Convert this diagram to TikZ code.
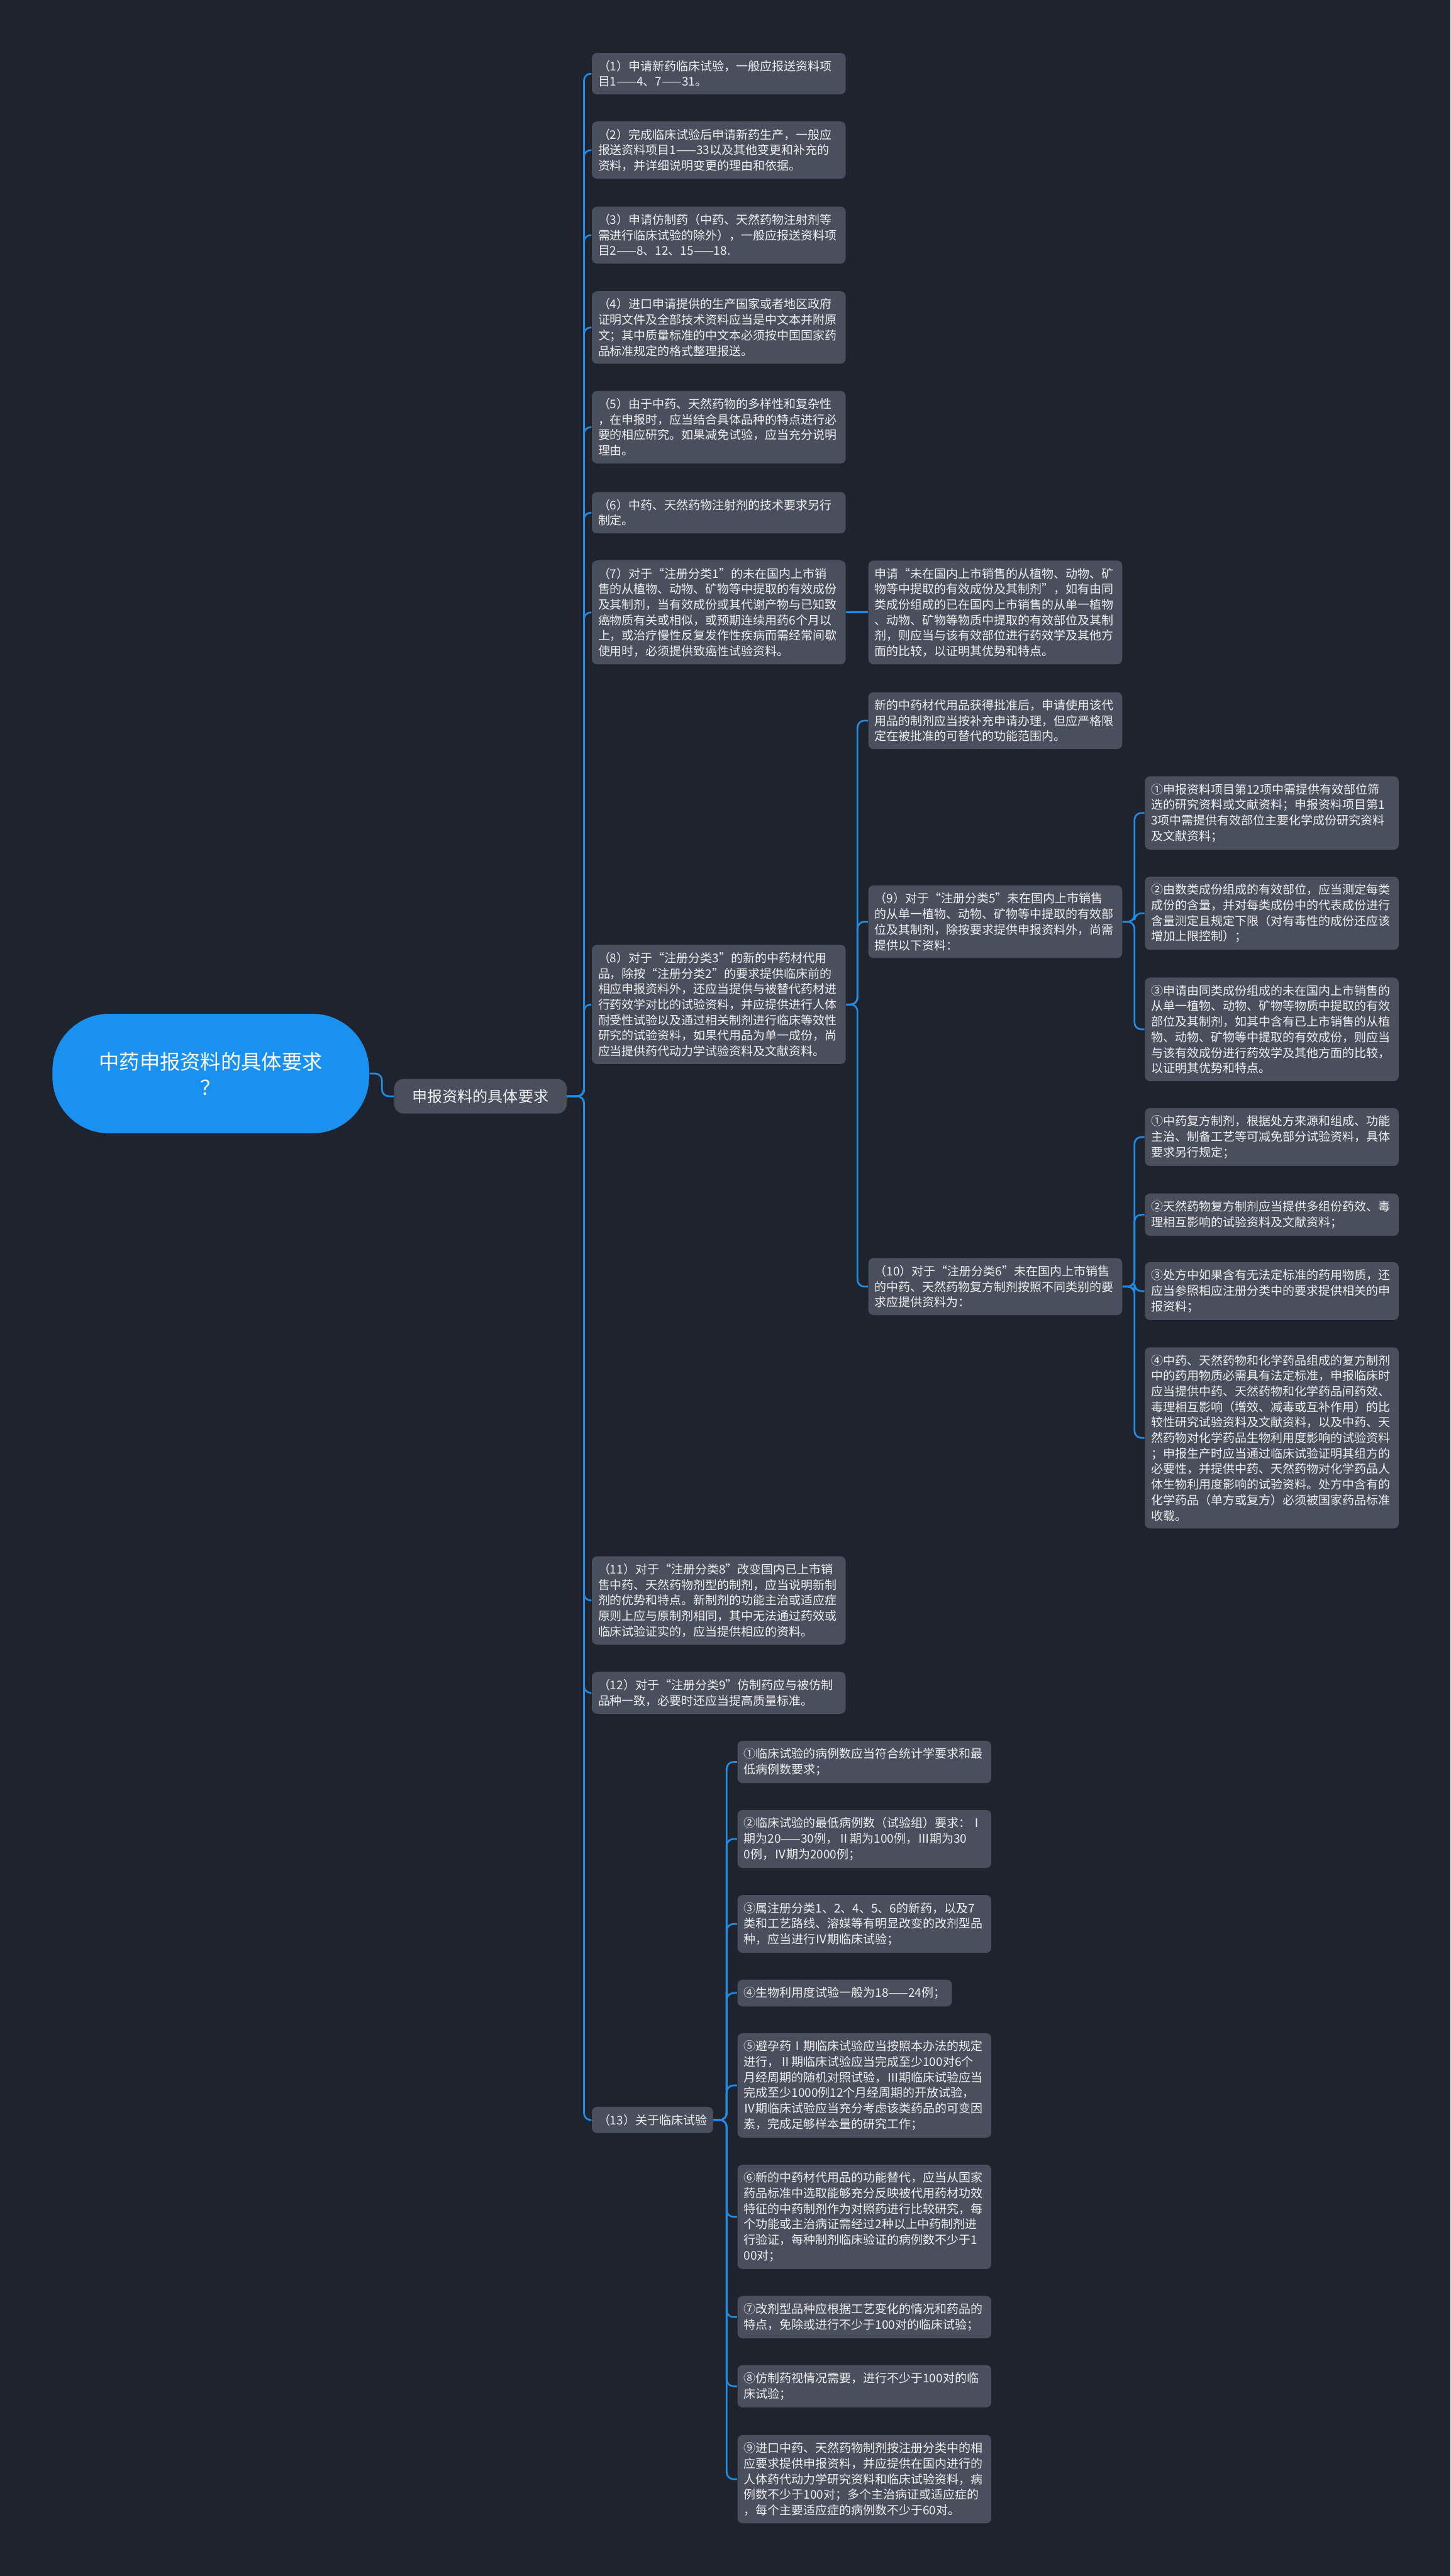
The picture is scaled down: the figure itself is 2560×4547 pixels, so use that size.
\documentclass[tikz,border=0pt]{standalone}
\usepackage{fontspec}
\setmainfont{Noto Sans CJK SC}
\usepackage{tikz}
\usetikzlibrary{positioning}
\definecolor{bgnavy}{RGB}{31,35,46}
\definecolor{boxgrey}{RGB}{74,79,94}
\definecolor{linkblue}{RGB}{33,140,230}
\definecolor{rootblue}{RGB}{25,145,240}
\definecolor{txtwhite}{RGB}{238,238,238}

\begin{document}
\begin{tikzpicture}[
    x=0.1mm, y=-0.1mm,
    rootbox/.style={rectangle, fill=rootblue, rounded corners=10mm, minimum width=55.9mm, minimum height=21.1mm, align=center, text=white, font=\fontsize{10.2}{13}\selectfont},
    topic/.style={rectangle, fill=boxgrey, rounded corners=1.6mm, minimum width=30.4mm, minimum height=6.1mm, text=txtwhite, font=\fontsize{7.6}{9}\selectfont},
    tag/.style={rectangle, fill=boxgrey, rounded corners=0.9mm, inner xsep=1.1mm, inner ysep=1.3mm, text=txtwhite, font=\fontsize{6}{7.8}\selectfont, anchor=west},
    leaf/.style={tag, text width=42.6mm, align=left},
    link/.style={draw=linkblue, line width=0.3mm, rounded corners=1.2mm}
]
    \fill[bgnavy] (0,0) rectangle (2560,4547);
    \useasboundingbox (0,0) rectangle (2560,4547);

    \node[rootbox] (root) at (372,1895) {中药申报资料的具体要求\\？};
    \node[topic] (req) at (848,1935) {申报资料的具体要求};

    \node[leaf] (n1) at (1044,130) {（1）申请新药临床试验，一般应报送资料项\\目1——4、7——31。};
    \node[leaf] (n2) at (1044,265) {（2）完成临床试验后申请新药生产，一般应\\报送资料项目1——33以及其他变更和补充的\\资料，并详细说明变更的理由和依据。};
    \node[leaf] (n3) at (1044,415) {（3）申请仿制药（中药、天然药物注射剂等\\需进行临床试验的除外），一般应报送资料项\\目2——8、12、15——18.};
    \node[leaf] (n4) at (1044,578) {（4）进口申请提供的生产国家或者地区政府\\证明文件及全部技术资料应当是中文本并附原\\文；其中质量标准的中文本必须按中国国家药\\品标准规定的格式整理报送。};
    \node[leaf] (n5) at (1044,754) {（5）由于中药、天然药物的多样性和复杂性\\，在申报时，应当结合具体品种的特点进行必\\要的相应研究。如果减免试验，应当充分说明\\理由。};
    \node[leaf] (n6) at (1044,905) {（6）中药、天然药物注射剂的技术要求另行\\制定。};
    \node[leaf] (n7) at (1044,1081) {（7）对于“注册分类1”的未在国内上市销\\售的从植物、动物、矿物等中提取的有效成份\\及其制剂，当有效成份或其代谢产物与已知致\\癌物质有关或相似，或预期连续用药6个月以\\上，或治疗慢性反复发作性疾病而需经常间歇\\使用时，必须提供致癌性试验资料。};
    \node[leaf] (n8) at (1044,1773) {（8）对于“注册分类3”的新的中药材代用\\品，除按“注册分类2”的要求提供临床前的\\相应申报资料外，还应当提供与被替代药材进\\行药效学对比的试验资料，并应提供进行人体\\耐受性试验以及通过相关制剂进行临床等效性\\研究的试验资料，如果代用品为单一成份，尚\\应当提供药代动力学试验资料及文献资料。};
    \node[leaf] (n11) at (1044,2825) {（11）对于“注册分类8”改变国内已上市销\\售中药、天然药物剂型的制剂，应当说明新制\\剂的优势和特点。新制剂的功能主治或适应症\\原则上应与原制剂相同，其中无法通过药效或\\临床试验证实的，应当提供相应的资料。};
    \node[leaf] (n12) at (1044,2988) {（12）对于“注册分类9”仿制药应与被仿制\\品种一致，必要时还应当提高质量标准。};
    \node[tag] (n13) at (1044,3742) {（13）关于临床试验};

    \node[leaf] (n7x) at (1532,1081) {申请“未在国内上市销售的从植物、动物、矿\\物等中提取的有效成份及其制剂”，如有由同\\类成份组成的已在国内上市销售的从单一植物\\、动物、矿物等物质中提取的有效部位及其制\\剂，则应当与该有效部位进行药效学及其他方\\面的比较，以证明其优势和特点。};
    \node[leaf] (n8x) at (1532,1272) {新的中药材代用品获得批准后，申请使用该代\\用品的制剂应当按补充申请办理，但应严格限\\定在被批准的可替代的功能范围内。};
    \node[leaf] (n9) at (1532,1627) {（9）对于“注册分类5”未在国内上市销售\\的从单一植物、动物、矿物等中提取的有效部\\位及其制剂，除按要求提供申报资料外，尚需\\提供以下资料：};
    \node[leaf] (n10) at (1532,2271) {（10）对于“注册分类6”未在国内上市销售\\的中药、天然药物复方制剂按照不同类别的要\\求应提供资料为：};

    \node[leaf] (n9a) at (2020,1435) {①申报资料项目第12项中需提供有效部位筛\\选的研究资料或文献资料；申报资料项目第1\\3项中需提供有效部位主要化学成份研究资料\\及文献资料；};
    \node[leaf] (n9b) at (2020,1612) {②由数类成份组成的有效部位，应当测定每类\\成份的含量，并对每类成份中的代表成份进行\\含量测定且规定下限（对有毒性的成份还应该\\增加上限控制）；};
    \node[leaf] (n9c) at (2020,1817) {③申请由同类成份组成的未在国内上市销售的\\从单一植物、动物、矿物等物质中提取的有效\\部位及其制剂，如其中含有已上市销售的从植\\物、动物、矿物等中提取的有效成份，则应当\\与该有效成份进行药效学及其他方面的比较，\\以证明其优势和特点。};

    \node[leaf] (n10a) at (2020,2007) {①中药复方制剂，根据处方来源和组成、功能\\主治、制备工艺等可减免部分试验资料，具体\\要求另行规定；};
    \node[leaf] (n10b) at (2020,2144) {②天然药物复方制剂应当提供多组份药效、毒\\理相互影响的试验资料及文献资料；};
    \node[leaf] (n10c) at (2020,2279) {③处方中如果含有无法定标准的药用物质，还\\应当参照相应注册分类中的要求提供相关的申\\报资料；};
    \node[leaf] (n10d) at (2020,2538) {④中药、天然药物和化学药品组成的复方制剂\\中的药用物质必需具有法定标准，申报临床时\\应当提供中药、天然药物和化学药品间药效、\\毒理相互影响（增效、减毒或互补作用）的比\\较性研究试验资料及文献资料，以及中药、天\\然药物对化学药品生物利用度影响的试验资料\\；申报生产时应当通过临床试验证明其组方的\\必要性，并提供中药、天然药物对化学药品人\\体生物利用度影响的试验资料。处方中含有的\\化学药品（单方或复方）必须被国家药品标准\\收载。};

    \node[leaf] (trial1) at (1301,3110) {①临床试验的病例数应当符合统计学要求和最\\低病例数要求；};
    \node[leaf] (trial2) at (1301,3246) {②临床试验的最低病例数（试验组）要求：Ⅰ\\期为20——30例，Ⅱ期为100例，Ⅲ期为30\\0例，Ⅳ期为2000例；};
    \node[leaf] (trial3) at (1301,3396) {③属注册分类1、2、4、5、6的新药，以及7\\类和工艺路线、溶媒等有明显改变的改剂型品\\种，应当进行Ⅳ期临床试验；};
    \node[tag] (trial4) at (1301,3518) {④生物利用度试验一般为18——24例；};
    \node[leaf] (trial5) at (1301,3681) {⑤避孕药Ⅰ期临床试验应当按照本办法的规定\\进行，Ⅱ期临床试验应当完成至少100对6个\\月经周期的随机对照试验，Ⅲ期临床试验应当\\完成至少1000例12个月经周期的开放试验，\\Ⅳ期临床试验应当充分考虑该类药品的可变因\\素，完成足够样本量的研究工作；};
    \node[leaf] (trial6) at (1301,3913) {⑥新的中药材代用品的功能替代，应当从国家\\药品标准中选取能够充分反映被代用药材功效\\特征的中药制剂作为对照药进行比较研究，每\\个功能或主治病证需经过2种以上中药制剂进\\行验证，每种制剂临床验证的病例数不少于1\\00对；};
    \node[leaf] (trial7) at (1301,4090) {⑦改剂型品种应根据工艺变化的情况和药品的\\特点，免除或进行不少于100对的临床试验；};
    \node[leaf] (trial8) at (1301,4212) {⑧仿制药视情况需要，进行不少于100对的临\\床试验；};
    \node[leaf] (trial9) at (1301,4376) {⑨进口中药、天然药物制剂按注册分类中的相\\应要求提供申报资料，并应提供在国内进行的\\人体药代动力学研究资料和临床试验资料，病\\例数不少于100对；多个主治病证或适应症的\\，每个主要适应症的病例数不少于60对。};

    \draw[link] (root.east) -- ++(22,0) |- (req.west);
    \foreach \k in {1,2,3,4,5,6,7,8,11,12,13}
        \draw[link] (req.east) -- ++(30,0) |- (n\k.west);
    \draw[link] (n7.east) -- (n7x.west);
    \foreach \m in {n8x,n9,n10}
        \draw[link] (n8.east) -- ++(20,0) |- (\m.west);
    \foreach \m in {n9a,n9b,n9c}
        \draw[link] (n9.east) -- ++(21,0) |- (\m.west);
    \foreach \m in {n10a,n10b,n10c,n10d}
        \draw[link] (n10.east) -- ++(21,0) |- (\m.west);
    \foreach \k in {1,...,9}
        \draw[link] (n13.east) -- ++(23,0) |- (trial\k.west);
\end{tikzpicture}
\end{document}
